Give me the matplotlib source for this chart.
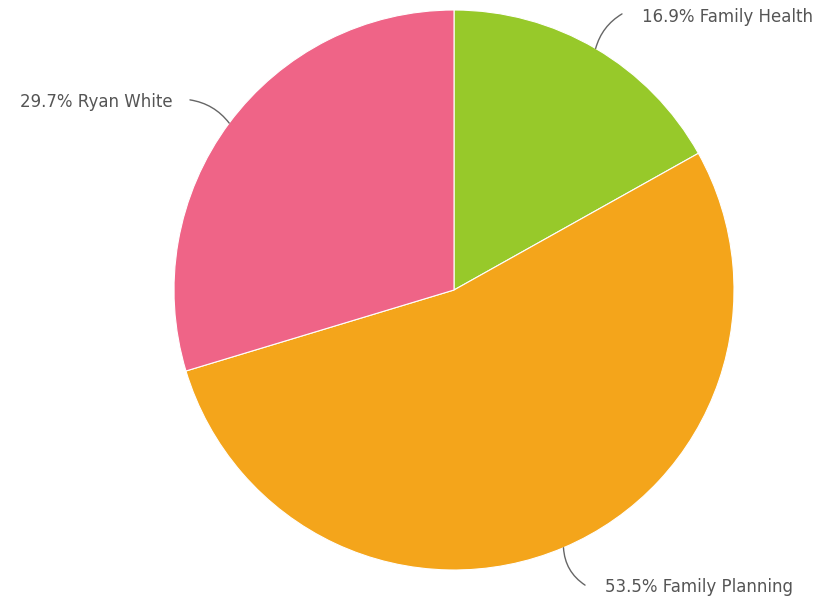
import matplotlib.pyplot as plt
import numpy as np

labels = ["Family Health", "Family Planning", "Ryan White"]
shares = [16.9, 53.5, 29.7]
colors = ["#97c92a", "#f4a51b", "#ef6487"]

fig = plt.figure(figsize=(8.2, 6), dpi=100)
# pie centre at (454, 290) px, radius 280 px
ax = fig.add_axes([(454 - 280) / 820, (600 - 290 - 280) / 600, 560 / 820, 560 / 600])

wedges, _ = ax.pie(shares, colors=colors, startangle=90, counterclock=False,
                   radius=1, wedgeprops=dict(edgecolor="white", linewidth=0.8))
ax.set_xlim(-1, 1)
ax.set_ylim(-1, 1)
ax.set_aspect("equal")
ax.axis("off")

# label placement: (line end x, y, text x, text y, alignment, curvature)
label_pos = [
    (0.60, 0.986, 0.671, 0.975, "left", 0.2),
    (0.468, -1.054, 0.539, -1.061, "left", -0.25),
    (-0.943, 0.679, -1.004, 0.671, "right", -0.2),
]

total = sum(shares)
cum = 0
for i, (lab, val) in enumerate(zip(labels, shares)):
    mid = 90 - (cum + val / 2) / total * 360
    cum += val
    ex, ey = np.cos(np.radians(mid)), np.sin(np.radians(mid))
    lx, ly, tx, ty, ha, rad = label_pos[i]
    ax.annotate("", xy=(ex, ey), xytext=(lx, ly),
                arrowprops=dict(arrowstyle="-", color="#666666", lw=1,
                                shrinkA=0, shrinkB=0,
                                connectionstyle="arc3,rad=%s" % rad),
                annotation_clip=False)
    ax.text(tx, ty, "%.1f%% %s" % (val, lab), ha=ha, va="center",
            fontsize=12, color="#555555", clip_on=False)

fig.savefig("out.png", dpi=100, facecolor="white")
